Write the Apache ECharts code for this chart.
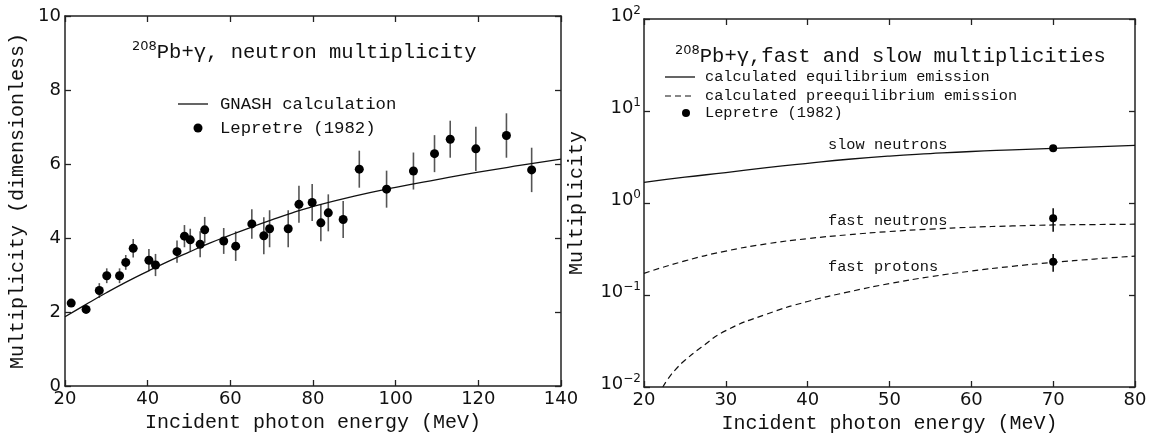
<!DOCTYPE html>
<html>
<head>
<meta charset="utf-8">
<script src="https://cdn.jsdelivr.net/npm/echarts@6/dist/echarts.min.js"></script>
<style>html,body{margin:0;padding:0;background:#fff}#c{width:1157px;height:441px}</style>
</head>
<body>
<div id="c"></div>
<script>
// ---- Left panel: neutron multiplicity ----
const leftE   = [21.5,25.1,28.3,30.1,33.2,34.7,36.5,40.3,41.9,47.1,48.9,50.3,52.7,53.8,58.4,61.3,65.2,68.1,69.5,74.0,76.6,79.8,81.9,83.7,87.3,91.2,97.8,104.3,109.4,113.2,119.4,126.8,132.9];
const leftM   = [2.24,2.07,2.58,2.98,2.98,3.34,3.72,3.40,3.27,3.63,4.05,3.95,3.83,4.22,3.92,3.78,4.38,4.06,4.25,4.25,4.91,4.96,4.41,4.68,4.50,5.86,5.32,5.81,6.28,6.67,6.41,6.77,5.84];
const leftErr = [0.10,0.10,0.20,0.20,0.20,0.20,0.25,0.30,0.30,0.30,0.30,0.30,0.35,0.35,0.35,0.40,0.40,0.50,0.50,0.50,0.50,0.50,0.50,0.50,0.50,0.50,0.50,0.50,0.50,0.50,0.60,0.60,0.60];
const gnashE  = [20,25,30,35,40,45,50,55,60,65,70,75,80,90,100,110,120,130,140];
const gnashM  = [1.87,2.20,2.52,2.82,3.10,3.37,3.62,3.86,4.08,4.29,4.49,4.68,4.85,5.13,5.37,5.58,5.78,5.96,6.13];
const leftXTicks = [20,40,60,80,100,120,140];
const leftYTicks = [0,2,4,6,8,10];

// ---- Right panel: fast and slow multiplicities ----
const curveE  = [20,25,30,35,40,45,50,55,60,65,70,75,80];
const slowN   = [1.68,1.91,2.14,2.42,2.70,2.99,3.24,3.44,3.63,3.78,3.93,4.08,4.24];
const fastN   = [0.172,0.235,0.300,0.360,0.410,0.452,0.490,0.520,0.545,0.563,0.577,0.583,0.588];
const protonE = [22.3,23,24,25,27,30,35,40,45,50,55,60,65,70,75,80];
const fastP   = [0.010,0.0125,0.0160,0.0195,0.027,0.041,0.062,0.085,0.108,0.133,0.158,0.182,0.205,0.226,0.246,0.265];
const ptE     = [70,70,70];
const ptM     = [3.93,0.682,0.230];
const ptLow   = [3.93,0.488,0.179];
const ptHigh  = [3.93,0.875,0.279];
const rightXTicks = [20,30,40,50,60,70,80];

const zip = (a,b) => a.map((v,i)=>[v,b[i]]);
const MONO = '"Liberation Mono", "Courier New", monospace';
const SANS = '"DejaVu Sans", sans-serif';
const AX = '#222';

function errRender(color){
  return function(params, api){
    const x = api.value(0), lo = api.value(1), hi = api.value(2);
    const p1 = api.coord([x, lo]), p2 = api.coord([x, hi]);
    return {type:'line', shape:{x1:p1[0],y1:p1[1],x2:p2[0],y2:p2[1]}, style:{stroke:color, lineWidth:1.6}};
  };
}

function xAx(grid, min, max, interval, pos, show, name){
  return {
    gridIndex:grid, type:'value', min:min, max:max, interval:interval, position:pos,
    axisLine:{show:true, onZero:false, lineStyle:{color:AX, width:1.5}},
    axisTick:{show:true, inside:true, length:6, lineStyle:{color:AX, width:1.3}},
    axisLabel:{show:show, margin:4, fontFamily:SANS, fontSize:18, color:'#111'},
    splitLine:{show:false},
    name: show ? name : '', nameLocation:'middle', nameGap:27,
    nameTextStyle:{fontFamily:MONO, fontSize:20, color:'#111'}
  };
}

const supMap = {'2':'2','1':'1','0':'0','-1':'\u22121','-2':'\u22122'};
const titleRich = {
  s:{fontFamily:SANS, fontSize:13, fontWeight:'normal', verticalAlign:'top', lineHeight:14, color:'#111'},
  m:{fontFamily:MONO, fontSize:20.5, fontWeight:'normal', lineHeight:26, color:'#111'}
};

const option = {
  backgroundColor:'#fff',
  animation:false,
  title:[
    {left:127, top:35, text:'{s|208}{m|Pb+\u03b3, neutron multiplicity}',
     textStyle:{fontWeight:'normal', rich:titleRich}},
    {left:670, top:39, text:'{s|208}{m|Pb+\u03b3,fast and slow multiplicities}',
     textStyle:{fontWeight:'normal', rich:titleRich}}
  ],
  grid:[
    {left:65, top:16, width:496, height:370, outerBoundsMode:'none', containLabel:false},
    {left:644, top:19, width:491, height:368, outerBoundsMode:'none', containLabel:false}
  ],
  xAxis:[
    xAx(0,20,140,20,'bottom',true,'Incident photon energy (MeV)'),
    xAx(0,20,140,20,'top',false,''),
    xAx(1,20,80,10,'bottom',true,'Incident photon energy (MeV)'),
    xAx(1,20,80,10,'top',false,'')
  ],
  yAxis:[
    {gridIndex:0, type:'value', min:0, max:10, interval:2, position:'left',
     axisLine:{show:true, onZero:false, lineStyle:{color:AX, width:1.5}},
     axisTick:{show:true, inside:true, length:6, lineStyle:{color:AX, width:1.3}},
     axisLabel:{margin:4, fontFamily:SANS, fontSize:18, color:'#111', verticalAlign:'middle', padding:[0,0,6,0]},
     splitLine:{show:false},
     name:'Multiplicity (dimensionless)', nameLocation:'middle', nameGap:37, nameRotate:90,
     nameTextStyle:{fontFamily:MONO, fontSize:20, color:'#111'}},
    {gridIndex:0, type:'value', min:0, max:10, interval:2, position:'right',
     axisLine:{show:true, onZero:false, lineStyle:{color:AX, width:1.5}},
     axisTick:{show:true, inside:true, length:6, lineStyle:{color:AX, width:1.3}},
     axisLabel:{show:false}, splitLine:{show:false}},
    {gridIndex:1, type:'log', logBase:10, min:0.01, max:100, position:'left',
     axisLine:{show:true, onZero:false, lineStyle:{color:AX, width:1.5}},
     axisTick:{show:true, inside:true, length:6, lineStyle:{color:AX, width:1.3}},
     minorTick:{show:false},
     axisLabel:{margin:3, color:'#111', verticalAlign:'middle', padding:[0,0,6,0],
       formatter:function(v){ const e = Math.round(Math.log10(v)); return '{b|10}{s|' + supMap[String(e)] + '}'; },
       rich:{b:{fontFamily:SANS, fontSize:18, lineHeight:22, color:'#111'},
             s:{fontFamily:SANS, fontSize:12, lineHeight:12, verticalAlign:'top', color:'#111'}}},
     splitLine:{show:false},
     name:'Multiplicity', nameLocation:'middle', nameGap:57, nameRotate:90,
     nameTextStyle:{fontFamily:MONO, fontSize:20, color:'#111'}},
    {gridIndex:1, type:'log', logBase:10, min:0.01, max:100, position:'right',
     axisLine:{show:true, onZero:false, lineStyle:{color:AX, width:1.5}},
     axisTick:{show:true, inside:true, length:6, lineStyle:{color:AX, width:1.3}},
     minorTick:{show:false},
     axisLabel:{show:false}, splitLine:{show:false}}
  ],
  series:[
    {name:'GNASH calculation', type:'line', xAxisIndex:0, yAxisIndex:0, data:zip(gnashE,gnashM),
     symbol:'none', smooth:true, lineStyle:{color:'#111', width:1.3}, z:3},
    {name:'Lepretre (1982) errors', type:'custom', xAxisIndex:0, yAxisIndex:0,
     data:leftE.map((e,i)=>[e, leftM[i]-leftErr[i], leftM[i]+leftErr[i]]),
     encode:{x:0, y:[1,2]}, renderItem:errRender('#555'), z:2},
    {name:'Lepretre (1982)', type:'scatter', xAxisIndex:0, yAxisIndex:0, data:zip(leftE,leftM),
     symbol:'circle', symbolSize:9, itemStyle:{color:'#000', opacity:1}, z:4},

    {name:'slow neutrons', type:'line', xAxisIndex:2, yAxisIndex:2, data:zip(curveE,slowN),
     symbol:'none', smooth:true, lineStyle:{color:'#111', width:1.3}, z:3},
    {name:'fast neutrons', type:'line', xAxisIndex:2, yAxisIndex:2, data:zip(curveE,fastN),
     symbol:'none', smooth:true, lineStyle:{color:'#111', width:1.2, type:[6,4]}, z:3},
    {name:'fast protons', type:'line', xAxisIndex:2, yAxisIndex:2, data:zip(protonE,fastP),
     symbol:'none', smooth:true, lineStyle:{color:'#111', width:1.2, type:[6,4]}, z:3},
    {name:'Lepretre (1982) right errors', type:'custom', xAxisIndex:2, yAxisIndex:2,
     data:ptE.map((e,i)=>[e, ptLow[i], ptHigh[i]]),
     encode:{x:0, y:[1,2]}, renderItem:errRender('#111'), z:2},
    {name:'Lepretre (1982) right', type:'scatter', xAxisIndex:2, yAxisIndex:2, data:zip(ptE,ptM),
     symbol:'circle', symbolSize:8, itemStyle:{color:'#000', opacity:1}, z:4}
  ],
  graphic:[
    // left legend
    {type:'line', shape:{x1:178,y1:104,x2:208,y2:104}, style:{stroke:'#111', lineWidth:1.3}},
    {type:'text', x:220, y:104, style:{text:'GNASH calculation', font:'17.3px '+MONO, fill:'#111', textAlign:'left', textVerticalAlign:'middle'}},
    {type:'circle', shape:{cx:198, cy:128, r:4.5}, style:{fill:'#000'}},
    {type:'text', x:220, y:128, style:{text:'Lepretre (1982)', font:'17.3px '+MONO, fill:'#111', textAlign:'left', textVerticalAlign:'middle'}},
    // right legend
    {type:'line', shape:{x1:665,y1:77,x2:695,y2:77}, style:{stroke:'#111', lineWidth:1.3}},
    {type:'text', x:705, y:77, style:{text:'calculated equilibrium emission', font:'15.3px '+MONO, fill:'#111', textAlign:'left', textVerticalAlign:'middle'}},
    {type:'line', shape:{x1:665,y1:96,x2:695,y2:96}, style:{stroke:'#111', lineWidth:1.2, lineDash:[6,4]}},
    {type:'text', x:705, y:96, style:{text:'calculated preequilibrium emission', font:'15.3px '+MONO, fill:'#111', textAlign:'left', textVerticalAlign:'middle'}},
    {type:'circle', shape:{cx:686, cy:113, r:4}, style:{fill:'#000'}},
    {type:'text', x:705, y:113, style:{text:'Lepretre (1982)', font:'15.3px '+MONO, fill:'#111', textAlign:'left', textVerticalAlign:'middle'}},
    // curve labels
    {type:'text', x:828, y:145, style:{text:'slow neutrons', font:'15.3px '+MONO, fill:'#111', textAlign:'left', textVerticalAlign:'middle'}},
    {type:'text', x:828, y:221, style:{text:'fast neutrons', font:'15.3px '+MONO, fill:'#111', textAlign:'left', textVerticalAlign:'middle'}},
    {type:'text', x:828, y:267, style:{text:'fast protons', font:'15.3px '+MONO, fill:'#111', textAlign:'left', textVerticalAlign:'middle'}}
  ]
};

const chart = echarts.init(document.getElementById('c'), null, {renderer:'canvas'});
chart.setOption(option);
</script>
</body>
</html>
